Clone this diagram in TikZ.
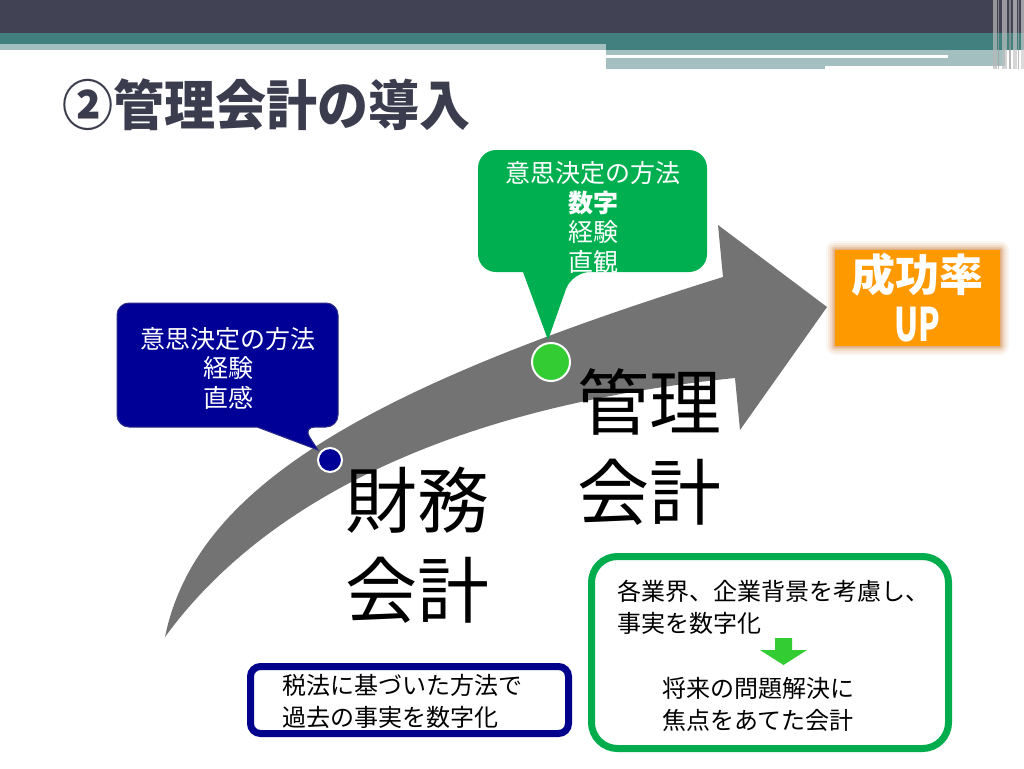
\documentclass[tikz,border=0pt]{standalone}
\usepackage{fontspec}
\setmainfont{Noto Sans CJK JP}
\definecolor{hdark}{RGB}{65,66,84}
\definecolor{hteal}{RGB}{66,128,127}
\definecolor{hlight}{RGB}{163,191,192}
\definecolor{titlec}{RGB}{59,60,78}
\definecolor{arrowg}{RGB}{115,115,115}
\definecolor{navyc}{RGB}{0,0,150}
\definecolor{navye}{RGB}{45,45,135}
\definecolor{navyb}{RGB}{0,0,140}
\definecolor{greenc}{RGB}{0,176,80}
\definecolor{greenbd}{RGB}{0,172,76}
\definecolor{limeg}{RGB}{51,204,51}
\definecolor{orangec}{RGB}{255,153,0}
\definecolor{glowc}{RGB}{200,110,30}
\begin{document}
\begin{tikzpicture}[x=1pt,y=-1pt,
  txt/.style={inner sep=0pt, align=center},
  calltxt/.style={txt, text=white, font=\fontsize{25}{29.5}\selectfont},
  bigtxt/.style={txt, align=left, font=\fontsize{72}{90}\selectfont},
  bodytxt/.style={txt, align=left, font=\fontsize{24}{32}\selectfont},
  dotnode/.style={circle, draw=white, line width=2pt, inner sep=0pt}]
\useasboundingbox (0,0) rectangle (1024,768);
\fill[white] (0,0) rectangle (1024,768);
% header
\fill[hdark] (0,0) rectangle (1024,33);
\fill[hteal] (0,33) rectangle (1024,44);
\fill[hteal] (606,44) rectangle (1024,50);
\fill[hlight] (0,44) rectangle (606,50);
\fill[hlight] (606,50) rectangle (1005,55);
\fill[hlight] (948,55) rectangle (1005,58);
\fill[hlight] (606,58) rectangle (825,69);
\fill[hlight] (825,58) rectangle (1005,66);
\foreach \a/\b/\g in {993/997/55, 998/999/75, 1002/1007/50, 1009/1011/80, 1013/1017/45, 1018/1019/75, 1021/1024/40}
  \fill[gray!\g, opacity=0.7] (\a,0) rectangle (\b,69);
% title
\node[txt, anchor=west, text=titlec, font=\fontsize{51}{56}\selectfont\bfseries] (title) at (62,105) {\scalebox{1}[1.06]{②管理会計の導入}};
% big curved arrow
\fill[arrowg] (165,637) .. controls (195,490) and (360,390) .. (723,277)
  -- (718,225) -- (827,307) -- (740,430) -- (735,378)
  .. controls (420,410) and (250,520) .. (165,637) -- cycle;
% blue callout
\filldraw[fill=navyc, draw=navye, line width=1pt] (228,303) [rounded corners=12] -- (338,303) -- (338,427) -- (303,427) [sharp corners] -- (318,450) -- (257,427) [rounded corners=12] -- (117,427) -- (117,303) -- cycle;
\node[calltxt] (bluetext) at (228,368) {意思決定の方法\\経験\\直感};
% green callout
\fill[greenc] (592,150) [rounded corners=18] -- (707,150) -- (707,272) -- (572,272) [sharp corners] -- (548,340) -- (523,272) [rounded corners=18] -- (478,272) -- (478,150) -- cycle;
\node[calltxt] (greentext) at (593,217.5) {意思決定の方法\\{\bfseries 数字}\\経験\\直観};
% dots
\node[dotnode, fill=navyc, minimum size=24pt] (bdot) at (330,460) {};
\node[dotnode, fill=limeg, minimum size=38pt] (gdot) at (551,362) {};
% big labels
\node[bigtxt] (zaimu) at (417,545) {財務\\会計};
\node[bigtxt] (kanri) at (649,447) {管理\\会計};
% orange box with glow
\foreach \r/\o in {9/0.06, 7/0.08, 5/0.12, 3/0.18, 1.5/0.25}
  \fill[glowc, opacity=\o, rounded corners=\r] ({835-\r},{250-\r}) rectangle ({1000+\r},{346+\r});
\node[fill=orangec, minimum width=165pt, minimum height=96pt, inner sep=0pt, align=center,
  text=white, font=\fontsize{44}{50}\selectfont\bfseries] (up) at (917.5,298) {成功率\\\scalebox{0.72}[1.05]{UP}};
% bottom left box
\node[draw=navyb, line width=7pt, rounded corners=10pt, minimum width=318pt, minimum height=67pt, inner sep=0pt] (taxbox) at (409.5,700) {};
\node[bodytxt, anchor=west] (taxtext) at (282,701) {税法に基づいた方法で\\過去の事実を数字化};
% bottom right box
\node[draw=greenbd, line width=7pt, rounded corners=26pt, minimum width=357pt, minimum height=192pt, inner sep=0pt] (mgbox) at (770,652.5) {};
\node[bodytxt, anchor=west] (mgtext1) at (617,607) {各業界、企業背景を考慮し、\\事実を数字化};
\node[bodytxt, anchor=west] (mgtext2) at (662,704.5) {将来の問題解決に\\焦点をあてた会計};
\fill[limeg] (775,638) -- (792,638) -- (792,650) -- (807,650) -- (783.5,665) -- (760,650) -- (775,650) -- cycle;
\end{tikzpicture}
\end{document}
